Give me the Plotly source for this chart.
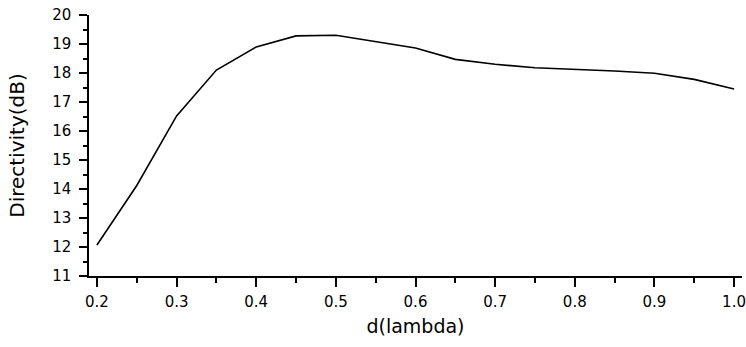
import plotly.graph_objects as go

d_lambda = [0.2, 0.25, 0.3, 0.35, 0.4, 0.45, 0.5, 0.55, 0.6, 0.65, 0.7, 0.75, 0.8, 0.85, 0.9, 0.95, 1.0]
directivity_db = [12.07, 14.12, 16.52, 18.1, 18.9, 19.28, 19.3, 19.07, 18.86, 18.47, 18.3, 18.18, 18.13, 18.07, 17.99, 17.78, 17.45]

fig = go.Figure()
fig.add_trace(go.Scatter(x=d_lambda, y=directivity_db, mode="lines",
                         line=dict(color="black", width=1.6), showlegend=False))

font = dict(family="DejaVu Sans, Arial, sans-serif", color="black")
fig.update_layout(
    width=746, height=347,
    margin=dict(l=89, r=4, t=15, b=71),
    paper_bgcolor="white", plot_bgcolor="white",
    font=dict(size=15, **font),
    xaxis=dict(range=[0.19, 1.01], dtick=0.1, tick0=0.2, tickformat=".1f", automargin=False,
               showgrid=False, zeroline=False, showline=True, linecolor="black", linewidth=1.5,
               ticks="outside", ticklen=9, tickwidth=1.5, tickcolor="black",
               minor=dict(dtick=0.05, ticks="outside", ticklen=5, tickwidth=1.5, tickcolor="black", showgrid=False),
               tickfont=dict(size=15), ticklabeloverflow="allow", ticklabelstandoff=2,
               title=dict(text="d(lambda)", font=dict(size=19), standoff=10)),
    yaxis=dict(range=[11, 20], dtick=1, automargin=False,
               showgrid=False, zeroline=False, showline=True, linecolor="black", linewidth=1.5,
               ticks="outside", ticklen=8, tickwidth=1.5, tickcolor="black",
               minor=dict(dtick=0.5, ticks="outside", ticklen=4, tickwidth=1.5, tickcolor="black", showgrid=False),
               tickfont=dict(size=15), ticklabelstandoff=5,
               title=dict(text="Directivity(dB)", font=dict(size=20), standoff=22)),
)
fig.write_html("out.html", config={"displayModeBar": False},
               post_script="document.body.style.margin='0';document.body.style.overflow='hidden';")
